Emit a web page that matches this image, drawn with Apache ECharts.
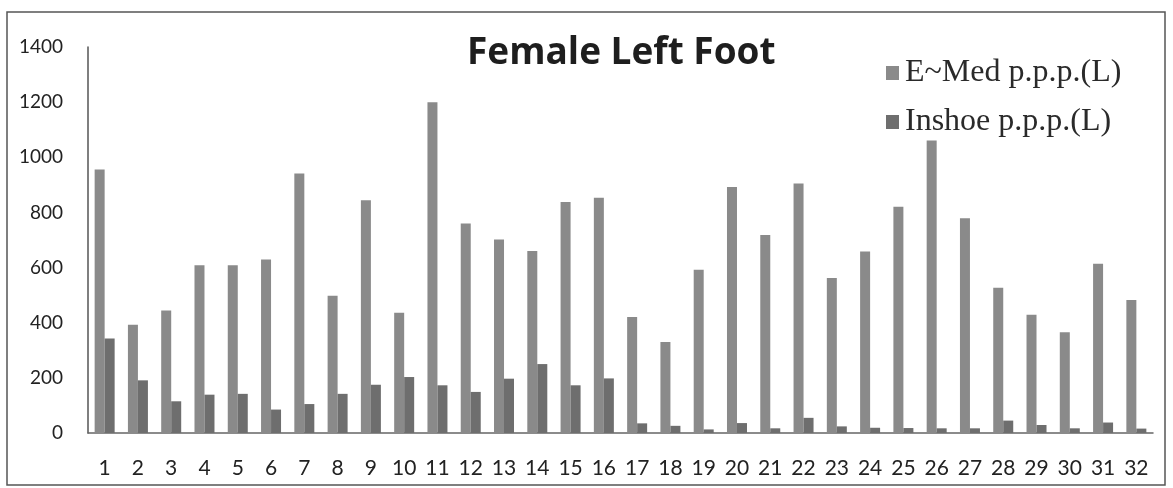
<!DOCTYPE html>
<html>
<head>
<meta charset="utf-8">
<script src="https://cdn.jsdelivr.net/npm/echarts@6/dist/echarts.min.js"></script>
<style>
html, body { margin: 0; padding: 0; background: #fff; }
#main { width: 1173px; height: 488px; }
</style>
</head>
<body>
<div id="main"></div>
<script>
var categories = ['1','2','3','4','5','6','7','8','9','10','11','12','13','14','15','16',
	'17','18','19','20','21','22','23','24','25','26','27','28','29','30','31','32'];
var yTicks = [0, 200, 400, 600, 800, 1000, 1200, 1400];
var seriesNames = ['E~Med p.p.p.(L)', 'Inshoe p.p.p.(L)'];
var eMed = [956, 393, 444, 608, 608, 629, 941, 498, 844, 436, 1200, 760, 702, 660, 838, 853,
	421, 330, 592, 892, 718, 905, 562, 658, 821, 1061, 779, 527, 429, 365, 614, 482];
var inshoe = [343, 191, 115, 139, 142, 85, 105, 142, 175, 203, 173, 149, 197, 250, 173, 198,
	35, 26, 13, 36, 17, 55, 24, 19, 18, 17, 17, 45, 29, 17, 38, 16];

var chart = echarts.init(document.getElementById('main'));
var option = {
	backgroundColor: '#fff',
	animation: false,
	title: {
		text: 'Female Left Foot',
		left: 467,
		top: 33,
		padding: 0,
		textStyle: {
			fontFamily: 'Open Sans',
			fontWeight: 'bold',
			fontSize: 37,
			lineHeight: 40,
			color: '#1e1e1e'
		}
	},
	legend: {
		orient: 'vertical',
		left: 886,
		top: 57,
		padding: 0,
		itemWidth: 13,
		itemHeight: 14,
		itemGap: 17,
		icon: 'rect',
		data: seriesNames,
		textStyle: {
			fontFamily: 'Liberation Serif',
			fontSize: 32,
			lineHeight: 32,
			color: '#2a2a2a',
			padding: [0, 0, 0, 1]
		}
	},
	grid: {
		left: 88,
		right: 20,
		top: 47,
		bottom: 55
	},
	xAxis: {
		type: 'category',
		data: categories,
		axisLine: { lineStyle: { color: '#666', width: 1.5 } },
		axisTick: { show: false },
		axisLabel: {
			margin: 25,
			fontFamily: 'Lato',
			fontSize: 21,
			color: '#222'
		}
	},
	yAxis: {
		type: 'value',
		min: yTicks[0],
		max: yTicks[yTicks.length - 1],
		interval: 200,
		splitLine: { show: false },
		axisLine: { show: true, lineStyle: { color: '#555', width: 1.5 } },
		axisTick: { show: false },
		axisLabel: {
			margin: 25,
			fontFamily: 'Lato',
			fontSize: 19,
			color: '#222',
			formatter: function (v) { return String(v); }
		}
	},
	graphic: [{
		type: 'rect',
		shape: { x: 7, y: 12, width: 1158, height: 473 },
		style: { fill: 'none', stroke: '#555', lineWidth: 1.5 },
		silent: true
	}],
	series: [
		{
			name: seriesNames[0],
			type: 'bar',
			data: eMed,
			barWidth: 10,
			barGap: '0%',
			itemStyle: { color: '#8a8a8a' }
		},
		{
			name: seriesNames[1],
			type: 'bar',
			data: inshoe,
			barWidth: 10,
			barGap: '0%',
			itemStyle: { color: '#6e6e6e' }
		}
	]
};
chart.setOption(option);
</script>
</body>
</html>
